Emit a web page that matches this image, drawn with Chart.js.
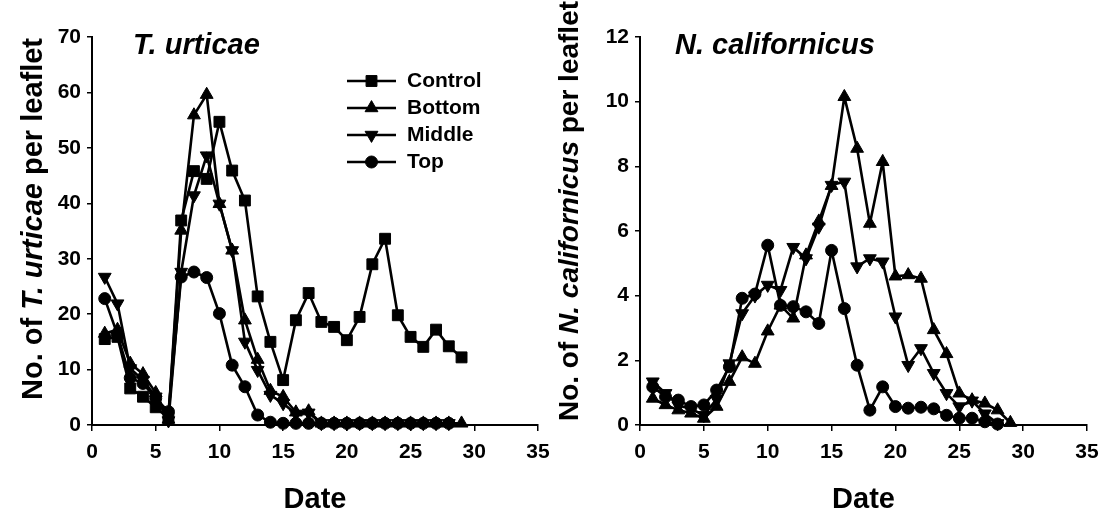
<!DOCTYPE html>
<html>
<head>
<meta charset="utf-8">
<script src="https://cdn.jsdelivr.net/npm/chart.js@4.4.1/dist/chart.umd.min.js"></script>
<style>
  html, body { margin: 0; padding: 0; background: #fff; }
  #wrap { position: relative; width: 1109px; height: 516px; overflow: hidden; background: #fff; }
  #wrap canvas { position: absolute; top: 0; }
  #left { left: 0; }
  #right { left: 540px; }
</style>
</head>
<body>
<div id="wrap">
  <canvas id="left" width="560" height="516"></canvas>
  <canvas id="right" width="569" height="516"></canvas>
</div>
<script>
// Sampling dates (day number)
const days = [1, 2, 3, 4, 5, 6, 7, 8, 9, 10, 11, 12, 13, 14, 15, 16, 17, 18, 19, 20, 21, 22, 23, 24, 25, 26, 27, 28, 29];

// Axis tick labels
const dateTicks = [0, 5, 10, 15, 20, 25, 30, 35];
const urticaeTicks = [0, 10, 20, 30, 40, 50, 60, 70];
const californicusTicks = [0, 2, 4, 6, 8, 10, 12];

// Treatment names
const seriesNames = ['Control', 'Bottom', 'Middle', 'Top'];

// T. urticae per leaflet
const urticaeControl = [15.5, 15.9, 6.6, 5.1, 3.2, 1.2, 36.9, 45.8, 44.4, 54.7, 45.9, 40.5, 23.2, 15.0, 8.1, 18.9, 23.8, 18.6, 17.7, 15.3, 19.5, 29.0, 33.6, 19.8, 15.9, 14.1, 17.2, 14.2, 12.2];
const urticaeBottom = [16.5, 17.2, 11.1, 9.2, 5.8, 1.0, 35.1, 55.9, 59.6, 39.9, 31.5, 18.9, 11.8, 6.2, 5.1, 2.3, 2.5, 0.3, 0.3, 0.3, 0.3, 0.3, 0.3, 0.3, 0.3, 0.3, 0.3, 0.3, 0.3];
const urticaeMiddle = [26.7, 21.9, 10.2, 8.1, 5.1, 0.8, 27.6, 41.4, 48.6, 39.9, 31.5, 15.0, 9.9, 5.4, 3.9, 2.0, 2.2, 0.3, 0.3, 0.3, 0.3, 0.3, 0.3, 0.3, 0.3, 0.3, 0.3, 0.3];
const urticaeTop = [22.8, 16.3, 8.5, 7.5, 4.8, 2.4, 26.7, 27.6, 26.6, 20.1, 10.8, 6.9, 1.8, 0.5, 0.3, 0.3, 0.3, 0.3, 0.3, 0.3, 0.3, 0.3, 0.3, 0.3, 0.3, 0.3, 0.3, 0.3];

// N. californicus per leaflet
const californicusBottom = [0.82, 0.62, 0.46, 0.36, 0.2, 0.57, 1.34, 2.1, 1.9, 2.9, 3.7, 3.3, 5.25, 6.3, 7.4, 10.15, 8.55, 6.23, 8.14, 4.6, 4.64, 4.53, 2.94, 2.2, 0.98, 0.77, 0.67, 0.46, 0.07];
const californicusMiddle = [1.34, 0.98, 0.6, 0.5, 0.3, 0.8, 1.9, 3.45, 4.0, 4.33, 4.17, 5.5, 5.15, 6.13, 7.42, 7.52, 4.9, 5.15, 5.05, 3.35, 1.85, 2.37, 1.6, 0.98, 0.57, 0.75, 0.35, 0.05];
const californicusTop = [1.18, 0.87, 0.77, 0.57, 0.62, 1.08, 1.8, 3.92, 4.05, 5.56, 3.7, 3.66, 3.5, 3.14, 5.4, 3.6, 1.85, 0.46, 1.18, 0.57, 0.52, 0.55, 0.5, 0.3, 0.21, 0.21, 0.1, 0.03];

const FONT = "'Liberation Sans', Arial, Helvetica, sans-serif";
const TICK_SIZE = 21;
const TITLE_SIZE = 29;

// Marker look for each treatment
const markerStyles = {
  Control: { pointStyle: 'rect', radius: 7.7, rotation: 0 },
  Bottom:  { pointStyle: 'triangle', radius: 7.4, rotation: 0 },
  Middle:  { pointStyle: 'triangle', radius: 7.4, rotation: 180 },
  Top:     { pointStyle: 'circle', radius: 6.0, rotation: 0 }
};

function makeDataset(name, values) {
  const m = markerStyles[name];
  return {
    label: name,
    data: values.map((v, i) => ({ x: days[i], y: v })),
    borderColor: '#000',
    borderWidth: 2.6,
    backgroundColor: '#000',
    pointStyle: m.pointStyle,
    pointRotation: m.rotation,
    pointRadius: m.radius,
    pointBackgroundColor: '#000',
    pointBorderColor: '#000',
    pointBorderWidth: 1,
    tension: 0,
    clip: false
  };
}

function fontOf(italic, size) {
  return (italic ? 'italic ' : '') + 'bold ' + size + 'px ' + FONT;
}

// Draws a run of text made of plain and italic pieces, centred on (cx, cy)
function drawRichText(ctx, parts, size, cx, cy, angle) {
  ctx.save();
  ctx.translate(cx, cy);
  ctx.rotate(angle);
  ctx.textBaseline = 'middle';
  ctx.textAlign = 'left';
  ctx.fillStyle = '#000';
  let total = 0;
  const widths = parts.map(p => {
    ctx.font = fontOf(p.italic, size);
    const w = ctx.measureText(p.text).width;
    total += w;
    return w;
  });
  let x = -total / 2;
  parts.forEach((p, i) => {
    ctx.font = fontOf(p.italic, size);
    ctx.fillText(p.text, x, 0);
    x += widths[i];
  });
  ctx.restore();
}

// Panel decorations: panel name, axis titles and the in-plot legend
const panelText = {
  id: 'panelText',
  afterDraw(chart, args, opts) {
    const ctx = chart.ctx;
    const area = chart.chartArea;
    // panel name
    ctx.save();
    ctx.font = fontOf(true, TITLE_SIZE);
    ctx.fillStyle = '#000';
    ctx.textBaseline = 'middle';
    ctx.textAlign = 'left';
    ctx.fillText(opts.panelName, opts.panelX, opts.panelY);
    ctx.restore();
    // y axis title
    drawRichText(ctx, opts.yTitle, opts.yTitleSize, opts.yTitleX, opts.yTitleY, -Math.PI / 2);
    // x axis title
    drawRichText(ctx, [{ text: 'Date', italic: false }], TITLE_SIZE, (area.left + area.right) / 2, opts.xTitleY, 0);
    // legend
    if (opts.legend) {
      const L = opts.legend;
      chart.data.datasets.forEach((ds, i) => {
        const y = L.top + i * L.rowGap;
        ctx.save();
        ctx.strokeStyle = '#000';
        ctx.fillStyle = '#000';
        ctx.lineWidth = 2.6;
        ctx.beginPath();
        ctx.moveTo(L.lineLeft, y);
        ctx.lineTo(L.lineRight, y);
        ctx.stroke();
        ctx.lineWidth = 1;
        Chart.helpers.drawPoint(ctx, {
          pointStyle: ds.pointStyle,
          radius: ds.pointRadius,
          rotation: ds.pointRotation,
          borderWidth: 1
        }, (L.lineLeft + L.lineRight) / 2, y);
        ctx.font = fontOf(false, L.size);
        ctx.textBaseline = 'middle';
        ctx.textAlign = 'left';
        ctx.fillText(ds.label, L.textLeft, y);
        ctx.restore();
      });
    }
  }
};

function axisOptions(ticks, leftWidth) {
  return {
    x: {
      type: 'linear',
      min: dateTicks[0],
      max: dateTicks[dateTicks.length - 1],
      ticks: { stepSize: dateTicks[1] - dateTicks[0], color: '#000', font: { family: FONT, size: TICK_SIZE, weight: 'bold' }, padding: 9, maxRotation: 0 },
      grid: { display: true, drawOnChartArea: false, drawTicks: true, tickLength: 6, color: '#000', lineWidth: 1.5 },
      border: { display: true, color: '#000', width: 2 },
      afterFit(scale) { scale.height = 91; }
    },
    y: {
      type: 'linear',
      min: ticks[0],
      max: ticks[ticks.length - 1],
      ticks: { stepSize: ticks[1] - ticks[0], color: '#000', font: { family: FONT, size: TICK_SIZE, weight: 'bold' }, padding: 6 },
      grid: { display: true, drawOnChartArea: false, drawTicks: true, tickLength: 5, color: '#000', lineWidth: 1.5 },
      border: { display: true, color: '#000', width: 2 },
      afterFit(scale) { scale.width = leftWidth; }
    }
  };
}

function baseOptions(ticks, leftWidth, rightPad, decor) {
  return {
    responsive: false,
    animation: false,
    layout: { padding: { top: 37, right: rightPad, bottom: 0, left: 0 } },
    scales: axisOptions(ticks, leftWidth),
    plugins: {
      legend: { display: false },
      tooltip: { enabled: false },
      panelText: decor
    }
  };
}

new Chart(document.getElementById('left'), {
  type: 'line',
  data: {
    datasets: [
      makeDataset(seriesNames[0], urticaeControl),
      makeDataset(seriesNames[1], urticaeBottom),
      makeDataset(seriesNames[2], urticaeMiddle),
      makeDataset(seriesNames[3], urticaeTop)
    ]
  },
  options: baseOptions(urticaeTicks, 92, 22, {
    panelName: 'T. urticae',
    panelX: 133, panelY: 46,
    yTitle: [{ text: 'No. of ', italic: false }, { text: 'T. urticae', italic: true }, { text: ' per leaflet', italic: false }],
    yTitleSize: 29,
    yTitleX: 34, yTitleY: 219,
    xTitleY: 500,
    legend: { top: 81, rowGap: 27, lineLeft: 347, lineRight: 396, textLeft: 407, size: 21 }
  }),
  plugins: [panelText]
});

new Chart(document.getElementById('right'), {
  type: 'line',
  data: {
    datasets: [
      makeDataset(seriesNames[1], californicusBottom),
      makeDataset(seriesNames[2], californicusMiddle),
      makeDataset(seriesNames[3], californicusTop)
    ]
  },
  options: baseOptions(californicusTicks, 100, 22, {
    panelName: 'N. californicus',
    panelX: 135, panelY: 46,
    yTitle: [{ text: 'No. of ', italic: false }, { text: 'N. californicus', italic: true }, { text: ' per leaflet', italic: false }],
    yTitleSize: 28,
    yTitleX: 30, yTitleY: 211,
    xTitleY: 500,
    legend: null
  }),
  plugins: [panelText]
});
</script>
</body>
</html>
